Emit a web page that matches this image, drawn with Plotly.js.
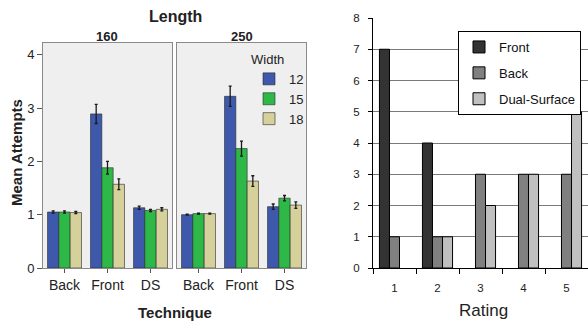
<!DOCTYPE html>
<html>
<head>
<meta charset="utf-8">
<script src="https://cdn.plot.ly/plotly-3.0.1.min.js"></script>
<style>html,body{margin:0;padding:0;background:#fff;overflow:hidden;}#chart{width:588px;height:324px;}</style>
</head>
<body>
<div id="chart"></div>
<script>
// ---- Left chart data: Mean Attempts by Technique, Width, Length ----
var techniques = ['Back', 'Front', 'DS'];
var widths = ['12', '15', '18'];
var len160_w12 = [1.05, 2.89, 1.13];
var len160_w15 = [1.05, 1.88, 1.08];
var len160_w18 = [1.04, 1.57, 1.10];
var len160_err12 = [0.02, 0.18, 0.03];
var len160_err15 = [0.02, 0.12, 0.02];
var len160_err18 = [0.02, 0.10, 0.03];
var len250_w12 = [1.00, 3.22, 1.15];
var len250_w15 = [1.02, 2.24, 1.31];
var len250_w18 = [1.02, 1.63, 1.18];
var len250_err12 = [0.01, 0.19, 0.05];
var len250_err15 = [0.01, 0.14, 0.05];
var len250_err18 = [0.01, 0.10, 0.06];

// ---- Right chart data: counts by Rating ----
var ratings = ['1', '2', '3', '4', '5'];
var frontCounts = [7, 4, 0, 0, 0];
var backCounts = [1, 1, 3, 3, 3];
var dualCounts = [0, 1, 2, 3, 5];

var W = 588, H = 324;
function px(x) { return x / W; }
function py(y) { return 1 - y / H; }

var leftColors = ['#3E58AC', '#2EB848', '#D6D09B'];
var font = 'Arial, "Liberation Sans", sans-serif';

function leftTrace(vals, errs, i, xa, ya, show) {
  return {
    type: 'bar', x: techniques, y: vals, name: widths[i],
    xaxis: xa, yaxis: ya, showlegend: show, legend: 'legend',
    marker: {color: leftColors[i], line: {color: '#2a2a2a', width: 0.6}},
    error_y: {type: 'data', array: errs, color: '#1a1a1a', thickness: 1.3, width: 1.5}
  };
}

var data = [
  leftTrace(len160_w12, len160_err12, 0, 'x', 'y', true),
  leftTrace(len160_w15, len160_err15, 1, 'x', 'y', true),
  leftTrace(len160_w18, len160_err18, 2, 'x', 'y', true),
  leftTrace(len250_w12, len250_err12, 0, 'x2', 'y2', false),
  leftTrace(len250_w15, len250_err15, 1, 'x2', 'y2', false),
  leftTrace(len250_w18, len250_err18, 2, 'x2', 'y2', false)
];

var rightNames = ['Front', 'Back', 'Dual-Surface'];
var rightColors = ['#333333', '#808080', '#C0C0C0'];
var rightVals = [frontCounts, backCounts, dualCounts];
var rightOffsets = [-0.35, -0.117, 0.117];
for (var k = 0; k < 3; k++) {
  var vals = rightVals[k];
  // list non-empty bars first so the legend swatch keeps its outline
  var order = ratings.map(function (r, i) { return i; })
    .sort(function (a, b) { return (vals[b] > 0) - (vals[a] > 0) || a - b; });
  data.push({
    type: 'bar',
    x: order.map(function (i) { return ratings[i]; }),
    y: order.map(function (i) { return vals[i]; }),
    name: rightNames[k],
    xaxis: 'x3', yaxis: 'y3', legend: 'legend2', legendgroup: 'g' + k,
    width: 0.233, offset: rightOffsets[k],
    marker: {color: rightColors[k],
      line: {color: '#000', width: order.map(function (i) { return vals[i] === 0 ? 0 : 1; })}}
  });
}

var panelLine = '#8a8a8a';
function ann(text, x, y, size, bold, extra) {
  var a = {text: text, x: px(x), y: py(y), xref: 'paper', yref: 'paper', showarrow: false,
    xanchor: 'center', yanchor: 'middle',
    font: {size: size, color: '#222', family: font, weight: bold ? 'bold' : 'normal'}};
  if (extra) for (var key in extra) a[key] = extra[key];
  return a;
}
var layout = {
  width: W, height: H, autosize: false,
  margin: {l: 0, r: 0, t: 0, b: 0},
  paper_bgcolor: '#fff', plot_bgcolor: 'rgba(0,0,0,0)',
  font: {family: font, color: '#222'},
  barmode: 'group', bargap: 0.21, bargroupgap: 0,
  xaxis: {domain: [px(43), px(172)], anchor: 'y', type: 'category', categoryarray: techniques,
    showline: true, mirror: true, linecolor: panelLine, linewidth: 1,
    ticks: 'outside', ticklen: 4, tickcolor: '#555', tickfont: {size: 14, color: '#222'},
    showgrid: false, zeroline: false, fixedrange: true},
  yaxis: {domain: [py(268), py(43)], anchor: 'x', range: [0, 4.22],
    tickvals: [0, 1, 2, 3, 4], showline: true, mirror: true, linecolor: panelLine, linewidth: 1,
    ticks: 'outside', ticklen: 5, tickcolor: '#555', tickfont: {size: 13, color: '#222'},
    showgrid: false, zeroline: false},
  xaxis2: {domain: [px(177), px(306)], anchor: 'y2', type: 'category', categoryarray: techniques,
    showline: true, mirror: true, linecolor: panelLine, linewidth: 1,
    ticks: 'outside', ticklen: 4, tickcolor: '#555', tickfont: {size: 14, color: '#222'},
    showgrid: false, zeroline: false},
  yaxis2: {domain: [py(268), py(43)], anchor: 'x2', matches: 'y', range: [0, 4.22],
    showticklabels: false, ticks: '', showline: true, mirror: true, linecolor: panelLine, linewidth: 1,
    showgrid: false, zeroline: false},
  xaxis3: {domain: [px(373), 1], anchor: 'y3', type: 'category',
    categoryorder: 'array', categoryarray: ratings,
    range: [-0.5, 4.5], tickson: 'boundaries', ticks: 'outside', ticklen: 5, tickcolor: '#000',
    showline: true, linecolor: '#000', linewidth: 1, tickfont: {size: 11.5, color: '#222'},
    ticklabelstandoff: 9, showgrid: false, zeroline: false},
  yaxis3: {domain: [py(268), py(18)], anchor: 'x3', range: [0, 8], dtick: 1,
    showline: true, linecolor: '#000', linewidth: 1, ticks: 'outside', ticklen: 4, tickcolor: '#000',
    tickfont: {size: 11.5, color: '#222'}, ticklabelstandoff: 6,
    showgrid: true, gridcolor: '#7a7a7a', gridwidth: 1, zeroline: false},
  legend: {x: px(249), y: py(47), xanchor: 'left', yanchor: 'top', bgcolor: 'rgba(0,0,0,0)',
    borderwidth: 0, font: {size: 13, color: '#222'},
    title: {text: 'Width', font: {size: 13, color: '#222'}}, tracegroupgap: 0},
  legend2: {x: px(458), y: py(31), xanchor: 'left', yanchor: 'top', bgcolor: '#fff',
    bordercolor: '#000', borderwidth: 1, font: {size: 13, color: '#111'},
    traceorder: 'grouped', tracegroupgap: 6},
  shapes: [
    {type: 'rect', xref: 'x domain', yref: 'y domain', x0: 0, x1: 1, y0: 0, y1: 1,
      fillcolor: '#efefef', line: {width: 0}, layer: 'below'},
    {type: 'rect', xref: 'x2 domain', yref: 'y2 domain', x0: 0, x1: 1, y0: 0, y1: 1,
      fillcolor: '#efefef', line: {width: 0}, layer: 'below'}
  ],
  annotations: [
    ann('Length', 175, 16, 16, true),
    ann('160', 107, 37, 13, true),
    ann('250', 242, 37, 13, true),
    ann('Mean Attempts', 16, 153, 15, true, {textangle: -90}),
    ann('Technique', 175, 312, 15, true),
    ann('Rating', 483, 310, 17, false)
  ]
};

Plotly.newPlot('chart', data, layout, {staticPlot: true, displayModeBar: false});
</script>
</body>
</html>
